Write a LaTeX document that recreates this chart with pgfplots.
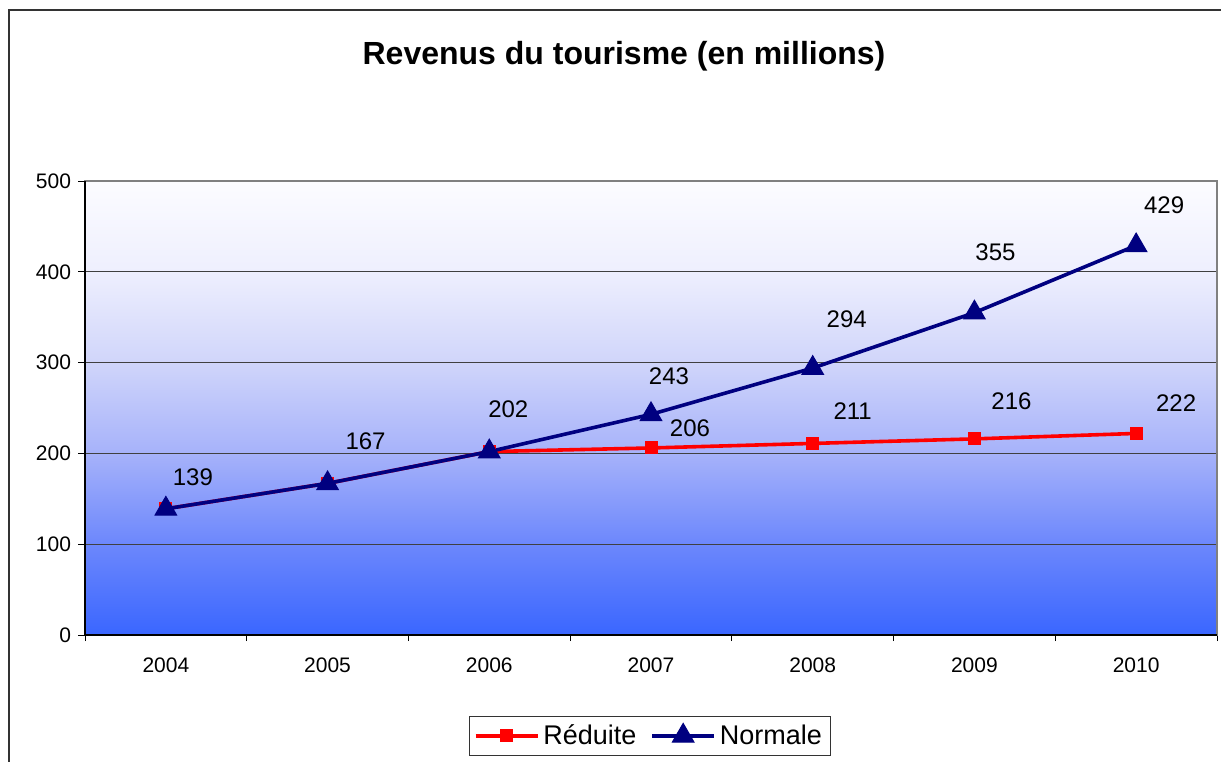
\documentclass[border=0pt]{standalone}
\usepackage{fontspec}
\setmainfont{Liberation Sans}
\usepackage{pgfplots}
\pgfplotsset{compat=1.18}

\definecolor{reduite}{RGB}{255,0,0}
\definecolor{normale}{RGB}{0,0,128}
\definecolor{bg0}{RGB}{58,102,255}
\definecolor{bg1}{RGB}{108,135,252}
\definecolor{bg2}{RGB}{166,178,250}
\definecolor{bg3}{RGB}{208,213,250}
\definecolor{bg4}{RGB}{238,239,254}
\definecolor{bg5}{RGB}{252,252,255}
% gradient of the plot area (bottom -> top), path spans 25bp..75bp
\pgfdeclareverticalshading{plotbg}{100bp}{%
  color(0bp)=(bg0); color(25bp)=(bg0); color(35bp)=(bg1); color(45bp)=(bg2);
  color(55bp)=(bg3); color(65bp)=(bg4); color(75bp)=(bg5); color(100bp)=(bg5)}

% data label: x, y, shift right (pt), shift up (pt)
\newcommand{\lbl}[4]{\node[font=\fontsize{12}{14}\selectfont, inner sep=0pt]
  at ([xshift=#3pt,yshift=#4pt]axis cs:#1,#2) {#2};}

\begin{document}
\begin{tikzpicture}
\useasboundingbox (0,0) rectangle (610.5pt,-380.5pt);
% chart frame
\draw[black!80, line width=0.8pt] (4.5pt,-381pt) -- (4.5pt,-5pt) -- (611pt,-5pt);

\node[font=\bfseries\fontsize{16}{19}\selectfont] at (312pt,-28pt)
  {Revenus du tourisme (en millions)};

\begin{axis}[
    at={(42.5pt,-317.5pt)}, anchor=south west,
    scale only axis, width=566pt, height=227pt,
    xmin=-0.5, xmax=6.5, ymin=0, ymax=500,
    xtick={0,...,6},
    xticklabels={2004,2005,2006,2007,2008,2009,2010},
    minor xtick={-0.5,0.5,...,6.5},
    ytick={0,100,...,500},
    xtick pos=bottom, ytick pos=left,
    tick align=outside,
    major tick length=3.5pt, minor tick length=3pt,
    major x tick style={draw=none},
    minor x tick style={draw=black, line width=0.5pt},
    major y tick style={draw=black, line width=0.5pt},
    xticklabel style={yshift=-4.5pt},
    ticklabel style={font=\fontsize{10.5}{12}\selectfont},
    /pgf/number format/assume math mode=true,
    axis line style={draw=black!50, line width=0.6pt},
    ymajorgrids, grid style={black!75, line width=0.5pt},
    axis background/.style={shading=plotbg},
    legend style={at={(0.499,-0.222)}, anchor=center, draw=black!80,
      line width=0.5pt, fill=white,
      font=\fontsize{13.5}{16}\selectfont, inner sep=2pt,
      /tikz/every even column/.append style={column sep=5pt}},
    legend columns=2,
    legend image code/.code={\draw[#1, mark repeat=2, mark phase=2]
      plot coordinates {(0pt,0pt) (15.5pt,0pt) (31pt,0pt)};},
    clip=false,
]
\addplot[reduite, line width=1.8pt, mark=square*, mark size=3pt,
  mark options={solid, line width=0.5pt}] coordinates {
  (0,139) (1,167) (2,202) (3,206) (4,211) (5,216) (6,222)};
\addlegendentry{Réduite}
\addplot[normale, line width=1.8pt, mark=triangle*, mark size=6.2pt,
  mark options={solid, line width=0.5pt}] coordinates {
  (0,139) (1,167) (2,202) (3,243) (4,294) (5,355) (6,429)};
\addlegendentry{Normale}

% left and bottom axis lines in black
\draw[black, line width=0.6pt] (rel axis cs:0,1) -- (rel axis cs:0,0) -- (rel axis cs:1,0);

% labels, Normale
\lbl{0}{139}{13.5}{16}
\lbl{1}{167}{19}{21}
\lbl{2}{202}{9.5}{21}
\lbl{3}{243}{9}{19}
\lbl{4}{294}{17}{24.5}
\lbl{5}{355}{10.5}{30}
\lbl{6}{429}{14}{20}
% labels, Réduite
\lbl{3}{206}{19.5}{10}
\lbl{4}{211}{20}{16}
\lbl{5}{216}{18.5}{19}
\lbl{6}{222}{20}{15}
\end{axis}
\end{tikzpicture}
\end{document}
